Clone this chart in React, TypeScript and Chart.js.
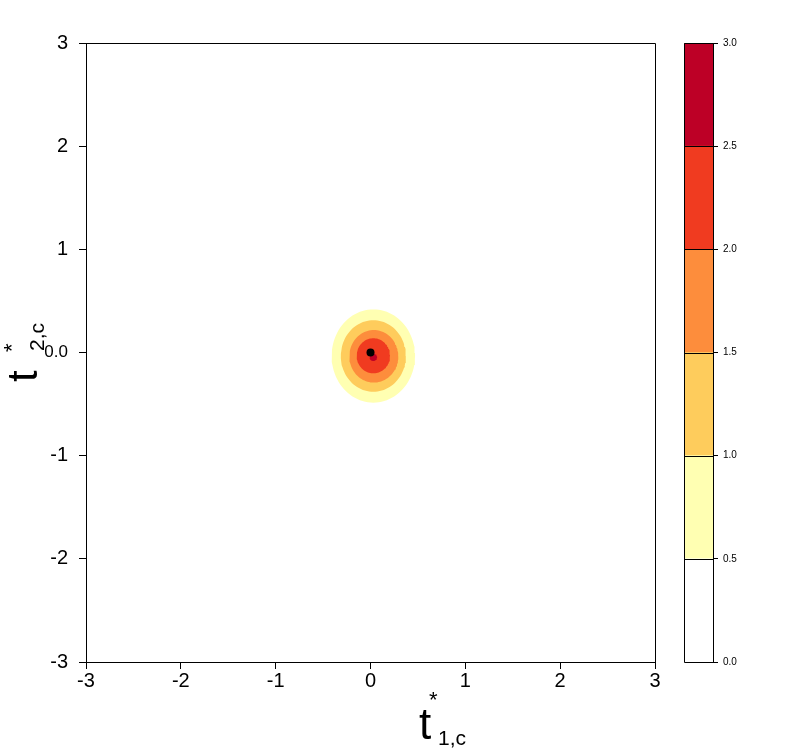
import React, { useEffect, useRef } from "react";
import { Chart, registerables } from "chart.js";

Chart.register(...registerables);

// ---- data ----
const xTicks = [-3, -2, -1, 0, 1, 2, 3];
const xTickLabels = ["-3", "-2", "-1", "0", "1", "2", "3"];
const yTicks = [-3, -2, -1, 0, 1, 2, 3];
const yTickLabels = ["-3", "-2", "-1", "0.0", "1", "2", "3"];

const contourLevels = [0.5, 1.0, 1.5, 2.0, 2.5];
const contourColors = ["#FFFFB2", "#FECC5C", "#FD8D3C", "#F03B20", "#BD0026"];
const contourCenterX = [0.03, 0.03, 0.035, 0.03, 0.03];
const contourCenterY = [-0.034, -0.034, -0.037, -0.032, -0.047];
const contourRadiusX = [0.44, 0.343, 0.258, 0.176, 0.04];
const contourRadiusY = [0.452, 0.347, 0.255, 0.17, 0.035];

const modeX = [0];
const modeY = [0];

const colorbarBreaks = [0, 0.5, 1.0, 1.5, 2.0, 2.5, 3.0];
const colorbarColors = ["#FFFFFF", "#FFFFB2", "#FECC5C", "#FD8D3C", "#F03B20", "#BD0026"];

const FONT = "'Liberation Sans', Arial, sans-serif";

function ellipsePoints(cx: number, cy: number, rx: number, ry: number) {
  const pts: { x: number; y: number }[] = [];
  const n = 96;
  for (let i = 0; i <= n; i++) {
    const t = (i / n) * Math.PI * 2;
    pts.push({ x: cx + rx * Math.cos(t), y: cy + ry * Math.sin(t) });
  }
  return pts;
}

const boxPlugin = {
  id: "boxAndTitles",
  afterDraw(chart: any) {
    const { ctx, chartArea } = chart;
    ctx.save();
    ctx.strokeStyle = "#000";
    ctx.lineWidth = 1;
    const l = Math.round(chartArea.left) + 0.5;
    const t = Math.round(chartArea.top) + 0.5;
    const r = Math.round(chartArea.right) + 0.5;
    const b = Math.round(chartArea.bottom) + 0.5;
    ctx.beginPath();
    ctx.moveTo(l, t);
    ctx.lineTo(r, t);
    ctx.lineTo(r, b);
    ctx.stroke();

    ctx.fillStyle = "#000";
    ctx.textBaseline = "alphabetic";
    ctx.textAlign = "left";
    // x title  t*_{1,c}
    ctx.font = `44px ${FONT}`;
    ctx.fillText("t", 419, 739);
    ctx.font = `22px ${FONT}`;
    ctx.fillText("*", 429, 707);
    ctx.font = `21px ${FONT}`;
    ctx.fillText("1,c", 438, 745);

    // y title rotated
    ctx.translate(37, 382);
    ctx.rotate(-Math.PI / 2);
    ctx.font = `42px ${FONT}`;
    ctx.fillText("t", 0, 0);
    ctx.font = `22px ${FONT}`;
    ctx.fillText("*", 30, -18);
    ctx.font = `21px ${FONT}`;
    ctx.fillText("2,c", 31, 7);
    ctx.restore();
  },
};

const colorbarLines = {
  id: "colorbarLines",
  afterDatasetsDraw(chart: any) {
    const { ctx, chartArea } = chart;
    const ys = chart.scales.y;
    ctx.save();
    ctx.strokeStyle = "#000";
    ctx.lineWidth = 1;
    const l = Math.round(chartArea.left) + 0.5;
    const r = Math.round(chartArea.right) + 0.5;
    ctx.beginPath();
    colorbarBreaks.forEach((v) => {
      const y = Math.round(ys.getPixelForValue(v)) + 0.5;
      ctx.moveTo(l, y);
      ctx.lineTo(r, y);
    });
    const yt = Math.round(ys.getPixelForValue(colorbarBreaks[colorbarBreaks.length - 1])) + 0.5;
    const yb = Math.round(ys.getPixelForValue(colorbarBreaks[0])) + 0.5;
    ctx.moveTo(l, yt);
    ctx.lineTo(l, yb);
    ctx.moveTo(r, yt);
    ctx.lineTo(r, yb);
    ctx.stroke();
    ctx.restore();
  },
};

export default function App() {
  const mainRef = useRef<HTMLCanvasElement>(null);
  const barRef = useRef<HTMLCanvasElement>(null);

  useEffect(() => {
    const datasets: any[] = contourLevels.map((lvl, i) => ({
      label: `level ${lvl}`,
      data: ellipsePoints(contourCenterX[i], contourCenterY[i], contourRadiusX[i], contourRadiusY[i]),
      showLine: true,
      fill: "shape",
      backgroundColor: contourColors[i],
      borderColor: "rgba(0,0,0,0)",
      borderWidth: 1,
      pointRadius: 0,
      order: 10 - i,
    }));
    datasets.push({
      label: "mode",
      data: modeX.map((x, i) => ({ x, y: modeY[i] })),
      pointRadius: 4,
      pointBackgroundColor: "#000",
      pointBorderWidth: 0,
      order: 0,
    });

    const main = new Chart(mainRef.current!, {
      type: "scatter",
      data: { datasets },
      options: {
        responsive: false,
        animation: false,
        layout: { padding: { left: 0, top: 43, right: 25, bottom: 0 } },
        plugins: { legend: { display: false }, tooltip: { enabled: false } },
        scales: {
          x: {
            type: "linear",
            min: -3,
            max: 3,
            afterFit: (s: any) => {
              s.height = 88;
            },
            afterBuildTicks: (s: any) => {
              s.ticks = xTicks.map((v) => ({ value: v }));
            },
            ticks: {
              autoSkip: false,
              maxRotation: 0,
              padding: 0,
              color: "#000",
              font: { size: 20, family: FONT },
              callback: (v: any) => {
                const i = xTicks.indexOf(Number(v));
                return i >= 0 ? xTickLabels[i] : "";
              },
            },
            grid: { drawOnChartArea: false, drawTicks: true, tickLength: 7, color: "#000" },
            border: { display: true, color: "#000" },
          },
          y: {
            type: "linear",
            min: -3,
            max: 3,
            afterFit: (s: any) => {
              s.width = 86;
            },
            afterBuildTicks: (s: any) => {
              s.ticks = yTicks.map((v) => ({ value: v }));
            },
            ticks: {
              autoSkip: false,
              padding: 11,
              color: "#000",
              font: (c: any) => ({
                size: c.tick && yTickLabels[yTicks.indexOf(c.tick.value)]?.length > 2 ? 17 : 20,
                family: FONT,
              }),
              callback: (v: any) => {
                const i = yTicks.indexOf(Number(v));
                return i >= 0 ? yTickLabels[i] : "";
              },
            },
            grid: { drawOnChartArea: false, drawTicks: true, tickLength: 7, color: "#000" },
            border: { display: true, color: "#000" },
          },
        },
      },
      plugins: [boxPlugin],
    });

    const barDatasets = colorbarColors.map((c, i) => ({
      label: `${colorbarBreaks[i]}-${colorbarBreaks[i + 1]}`,
      data: [colorbarBreaks[i + 1] - colorbarBreaks[i]],
      backgroundColor: c,
      borderWidth: 0,
      categoryPercentage: 1,
      barPercentage: 1,
    }));

    const bar = new Chart(barRef.current!, {
      type: "bar",
      data: { labels: [""], datasets: barDatasets as any },
      options: {
        responsive: false,
        animation: false,
        layout: { padding: { left: 34, top: 43, right: 0, bottom: 88 } },
        plugins: { legend: { display: false }, tooltip: { enabled: false } },
        scales: {
          x: { display: false, stacked: true },
          y: {
            stacked: true,
            position: "right",
            min: 0,
            max: 3,
            afterFit: (s: any) => {
              s.width = 87;
            },
            afterBuildTicks: (s: any) => {
              s.ticks = colorbarBreaks.map((v) => ({ value: v }));
            },
            ticks: {
              autoSkip: false,
              padding: 5,
              color: "#000",
              font: { size: 10, family: FONT },
              callback: (v: any) => Number(v).toFixed(1),
            },
            grid: { drawOnChartArea: false, drawTicks: true, tickLength: 5, color: "#000" },
            border: { display: false },
          },
        },
      },
      plugins: [colorbarLines],
    });

    return () => {
      main.destroy();
      bar.destroy();
    };
  }, []);

  return (
    <div style={{ position: "absolute", left: 0, top: 0, width: 800, height: 750, background: "#fff" }}>
      <canvas ref={mainRef} width={680} height={750} style={{ position: "absolute", left: 0, top: 0 }} />
      <canvas ref={barRef} width={150} height={750} style={{ position: "absolute", left: 650, top: 0 }} />
    </div>
  );
}
